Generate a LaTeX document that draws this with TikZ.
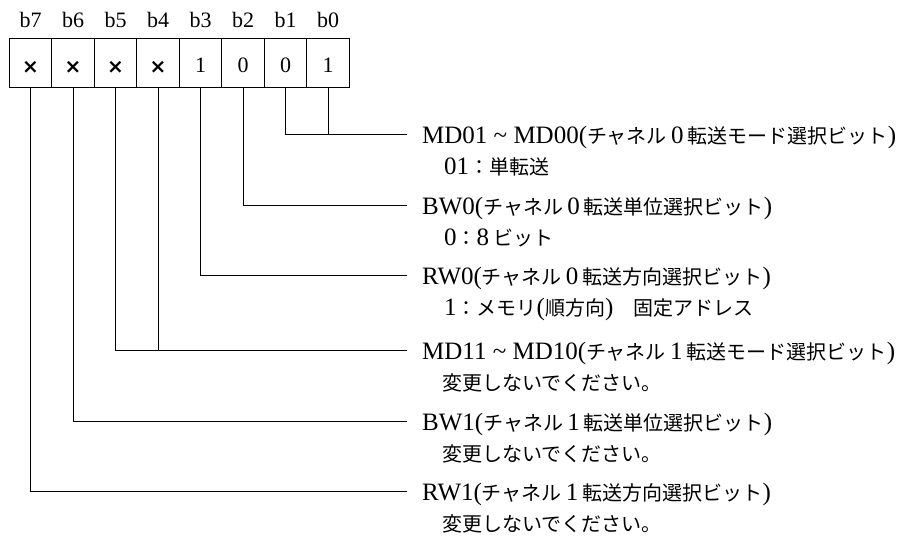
\documentclass[tikz,border=0pt]{standalone}
\usepackage{fontspec}
\setmainfont{Liberation Serif}
\newfontfamily\jpfont{Noto Sans CJK JP}
\newfontfamily\crossfont{DejaVu Sans}
\newcommand\J[1]{{\jpfont\fontsize{20}{24}\selectfont #1}}
\begin{document}
\begin{tikzpicture}[x=1pt,y=-1pt,
  cell/.style={draw,line width=1pt,minimum width=42.5pt,minimum height=49pt,inner sep=0pt},
  bitlbl/.style={anchor=base,inner sep=0pt,font=\fontsize{22}{26}\selectfont},
  bitval/.style={anchor=base,inner sep=0pt,font=\fontsize{22}{26}\selectfont},
  bitx/.style={inner sep=0pt,font=\crossfont\bfseries\fontsize{20}{24}\selectfont},
  wire/.style={line width=1pt},
  desc/.style={anchor=base west,inner sep=0pt,font=\fontsize{25}{30}\selectfont},
  sub/.style={anchor=base west,inner sep=0pt,font=\fontsize{25}{30}\selectfont}]
\useasboundingbox (0,0) rectangle (902,536);
% cells
\foreach \i in {0,...,7}{
  \node[cell] (c\i) at ({9.3+42.5*(7-\i)+21.25},62.5) {};
  \node[bitlbl] (l\i) at ({9.3+42.5*(7-\i)+21.25},27) {b\i};
}
\node[bitx] (v7) at (c7.center |- 0,67.5) {×};
\node[bitx] (v6) at (c6.center |- 0,67.5) {×};
\node[bitx] (v5) at (c5.center |- 0,67.5) {×};
\node[bitx] (v4) at (c4.center |- 0,67.5) {×};
\node[bitval] (v3) at (c3.center |- 0,72.5) {1};
\node[bitval] (v2) at (c2.center |- 0,72.5) {0};
\node[bitval] (v1) at (c1.center |- 0,72.5) {0};
\node[bitval] (v0) at (c0.center |- 0,72.5) {1};
% connector ends
\coordinate (e0) at (407,134);
\coordinate (e1) at (407,205);
\coordinate (e2) at (407,275);
\coordinate (e3) at (407,350);
\coordinate (e4) at (407,421);
\coordinate (e5) at (407,491);
\draw[wire] (c1.south) |- (e0);
\draw[wire] (c0.south) -- (c0.south |- e0);
\draw[wire] (c2.south) |- (e1);
\draw[wire] (c3.south) |- (e2);
\draw[wire] (c5.south) |- (e3);
\draw[wire] (c4.south) -- (c4.south |- e3);
\draw[wire] (c6.south) |- (e4);
\draw[wire] (c7.south) |- (e5);
% descriptions
\node[desc] (d0) at (422,143) {MD01 \textasciitilde{} MD00(\J{チャネル}\,0\,\J{転送モード選択ビット})};
\node[sub] (s0) at (444,174) {01\J{：単転送}};
\node[desc] (d1) at (422,214) {BW0(\J{チャネル}\,0\,\J{転送単位選択ビット})};
\node[sub] (s1) at (444,245) {0\J{：}8\,\J{ビット}};
\node[desc] (d2) at (422,284) {RW0(\J{チャネル}\,0\,\J{転送方向選択ビット})};
\node[sub] (s2) at (444,315) {1\J{：メモリ}(\J{順方向})\J{　固定アドレス}};
\node[desc] (d3) at (422,359) {MD11 \textasciitilde{} MD10(\J{チャネル}\,1\,\J{転送モード選択ビット})};
\node[sub] (s3) at (442,390) {\J{変更しないでください。}};
\node[desc] (d4) at (422,430) {BW1(\J{チャネル}\,1\,\J{転送単位選択ビット})};
\node[sub] (s4) at (442,461) {\J{変更しないでください。}};
\node[desc] (d5) at (422,500) {RW1(\J{チャネル}\,1\,\J{転送方向選択ビット})};
\node[sub] (s5) at (442,531) {\J{変更しないでください。}};
\end{tikzpicture}
\end{document}
